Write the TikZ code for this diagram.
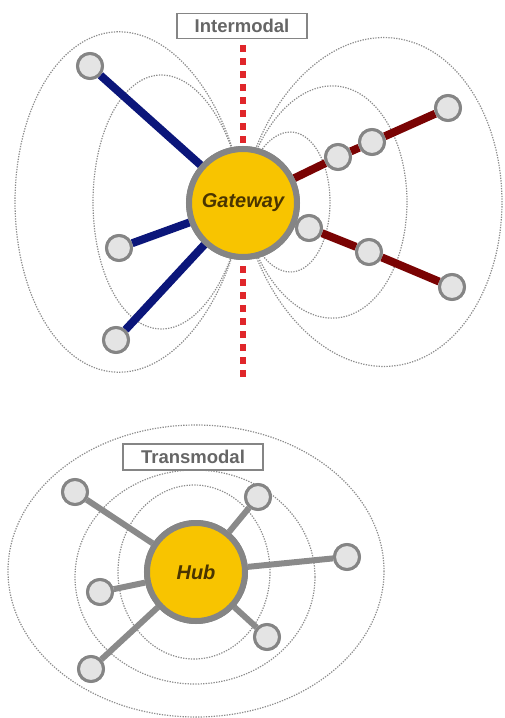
\documentclass[tikz,border=0pt]{standalone}
\usepackage{fontspec}
\setmainfont{Liberation Sans}
\begin{document}
\begin{tikzpicture}[x=1pt,y=-1pt]
\definecolor{goldfill}{HTML}{F8C400}
\definecolor{ringgray}{HTML}{858585}
\definecolor{stopfill}{HTML}{E4E4E4}
\definecolor{navyline}{HTML}{0B167A}
\definecolor{maroonline}{HTML}{7A0303}
\definecolor{borderred}{HTML}{E0262A}
\definecolor{labelgray}{HTML}{666666}
\definecolor{spokegray}{HTML}{8A8A8A}
\definecolor{fielddot}{HTML}{8C8C8C}
\definecolor{centreink}{HTML}{4A3500}
\tikzset{
  fieldline/.style={draw=fielddot, line width=1.2pt, dash pattern=on 1.3pt off 1.3pt},
  stopnode/.style={circle, draw=ringgray, line width=3pt, fill=stopfill, minimum size=25pt, inner sep=0pt},
  bigcentre/.style={circle, draw=ringgray, line width=6pt, fill=goldfill, inner sep=0pt},
  centretext/.style={font=\fontsize{20}{22}\selectfont\bfseries\itshape, text=centreink},
  titlebox/.style={draw=ringgray, line width=1.6pt, fill=white, inner sep=0pt, text=labelgray,
    font=\fontsize{18.5}{20}\selectfont\bfseries},
  navylink/.style={draw=navyline, line width=8pt},
  maroonlink/.style={draw=maroonline, line width=8pt},
  greylink/.style={draw=spokegray, line width=6pt},
}
\useasboundingbox (0,0) rectangle (504,718);

% ---------- intermodal gateway: field lines on both sides ----------
\foreach \L/\S in {228/1.94, 150/2.2}{
  \draw[fieldline] plot[domain=0:180, samples=90, smooth]
    ({243 - \L*pow(sin(\x),3)}, {202 - \S*\L*pow(sin(\x),2)*cos(\x)});
}
\foreach \L/\S in {259/1.65, 164/1.84, 87/2.09}{
  \draw[fieldline] plot[domain=0:180, samples=90, smooth]
    ({243 + \L*pow(sin(\x),3)}, {202 - \S*\L*pow(sin(\x),2)*cos(\x)});
}

% modal boundary
\coordinate (bTop) at (243,45);
\coordinate (bBot) at (243,377);
\draw[borderred, line width=5.5pt, dash pattern=on 6.5pt off 6.5pt] (bTop) -- (bBot);

% gateway and its stops (placed first so the links can refer to them)
\node[bigcentre, minimum size=108pt] (gw) at (243,203) {};
\node[stopnode] (l1) at (90,66) {};
\node[stopnode] (l2) at (119,248) {};
\node[stopnode] (l3) at (116,340) {};
\node[stopnode] (r1) at (338,157) {};
\node[stopnode] (r2) at (372,142) {};
\node[stopnode] (r3) at (448,108) {};
\node[stopnode] (s1) at (309,228) {};
\node[stopnode] (s2) at (369,252) {};
\node[stopnode] (s3) at (452,287) {};

% links, then the gateway and stops again on top of them
\path[navylink] (l1) -- (gw) (l2) -- (gw) (l3) -- (gw);
\path[maroonlink] (gw) -- (r1) (r1) -- (r2) (r2) -- (r3);
\path[maroonlink] (s1) -- (s2) (s2) -- (s3);
\node[bigcentre, minimum size=108pt, centretext] at (gw) {Gateway};
\foreach \n in {l1,l2,l3,r1,r2,r3,s1,s2,s3}{
  \node[stopnode] at (\n) {};
}

\node[titlebox, minimum width=130pt, minimum height=25pt] (inter) at (242,26) {Intermodal};

% ---------- transmodal hub ----------
\draw[fieldline] (196,571) ellipse [x radius=188, y radius=146];
\draw[fieldline] (195,577) ellipse [x radius=120, y radius=107];
\draw[fieldline] (194,572) ellipse [x radius=76, y radius=87];

\node[bigcentre, minimum size=98pt] (hub) at (196,572) {};
\node[stopnode] (h1) at (75,492) {};
\node[stopnode] (h2) at (258,497) {};
\node[stopnode] (h3) at (347,557) {};
\node[stopnode] (h4) at (100,592) {};
\node[stopnode] (h5) at (91,669) {};
\node[stopnode] (h6) at (267,637) {};
\foreach \n in {h1,h2,h3,h4,h5,h6}{
  \path[greylink] (hub) -- (\n);
}
\node[bigcentre, minimum size=98pt, centretext] at (hub) {Hub};
\foreach \n in {h1,h2,h3,h4,h5,h6}{
  \node[stopnode] at (\n) {};
}

\node[titlebox, minimum width=140pt, minimum height=26pt] (trans) at (193,457) {Transmodal};
\end{tikzpicture}
\end{document}
